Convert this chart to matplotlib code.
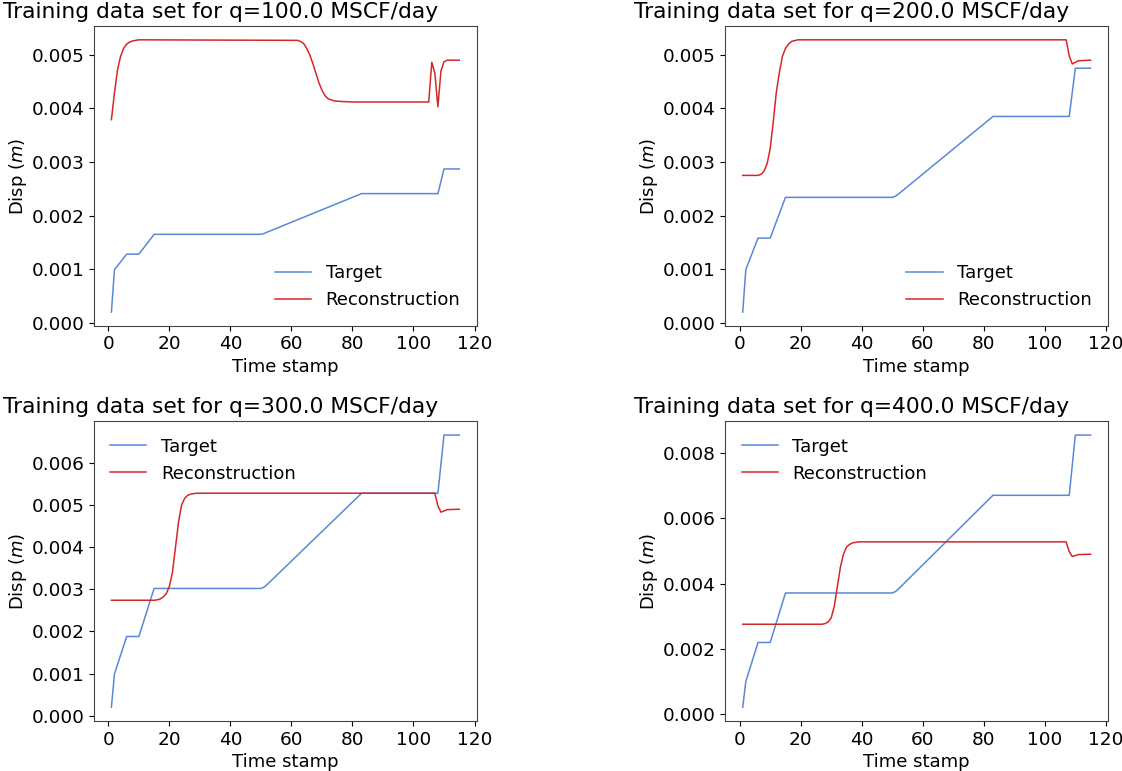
import matplotlib
matplotlib.use('Agg')
from matplotlib import pyplot as plt

# flow rates for the four panels
rates = [100.0, 200.0, 300.0, 400.0]

# target curves: break points (time stamp, displacement)
target_t = [1, 2, 6, 10, 15, 50, 51, 52, 83, 108, 110, 115]
target_q100 = [0.0002, 0.00099, 0.00128, 0.00128, 0.00165, 0.00165, 0.001665, 0.00169, 0.00241, 0.00241, 0.00287, 0.00287]
target_q200 = [0.0002, 0.00099, 0.00158, 0.00158, 0.00234, 0.00234, 0.00236, 0.0024, 0.00385, 0.00385, 0.00475, 0.00475]
target_q300 = [0.0002, 0.00099, 0.00188, 0.00188, 0.00302, 0.00302, 0.00305, 0.00311, 0.00528, 0.00528, 0.00666, 0.00666]
target_q400 = [0.0002, 0.00099, 0.00219, 0.00219, 0.00371, 0.00371, 0.00375, 0.00383, 0.00671, 0.00671, 0.00856, 0.00856]

# reconstruction curves
rec_t_q100 = [1, 2, 3, 4, 5, 6, 7, 8, 10, 62, 63, 64, 65, 66, 67, 68, 69, 70, 71, 72, 74, 76, 80,
              105, 106, 107, 108, 109, 110, 111, 115]
rec_q100 = [0.00379, 0.00429, 0.00472, 0.00497, 0.00512, 0.0052, 0.00524, 0.00526, 0.00528, 0.00527, 0.00525,
            0.00521, 0.00512, 0.005, 0.00484, 0.00466, 0.00448, 0.00434, 0.00424, 0.00418, 0.00414, 0.00413, 0.00412,
            0.00412, 0.00486, 0.00466, 0.00403, 0.0047, 0.00487, 0.0049, 0.0049]

rec_t_q200 = [1, 6, 7, 8, 9, 10, 11, 12, 13, 14, 15, 16, 17, 19, 107, 108, 109, 110, 111, 115]
rec_q200 = [0.00275, 0.00275, 0.00277, 0.00283, 0.00297, 0.00325, 0.00375, 0.0043, 0.00467, 0.00497, 0.00512,
            0.0052, 0.00525, 0.00528, 0.00528, 0.00498, 0.00483, 0.00486, 0.00489, 0.0049]

rec_t_q300 = [1, 15, 16, 17, 18, 19, 20, 21, 22, 23, 24, 25, 26, 27, 29, 107, 108, 109, 110, 111, 115]
rec_q300 = [0.00274, 0.00274, 0.00275, 0.00277, 0.00282, 0.0029, 0.00307, 0.0034, 0.004, 0.0046, 0.005, 0.00516,
            0.00523, 0.00526, 0.00528, 0.00528, 0.00498, 0.00483, 0.00486, 0.00489, 0.0049]

rec_t_q400 = [1, 27, 28, 29, 30, 31, 32, 33, 34, 35, 36, 37, 39, 107, 108, 109, 110, 111, 115]
rec_q400 = [0.00275, 0.00275, 0.00277, 0.00282, 0.00295, 0.0033, 0.0039, 0.0045, 0.0049, 0.00512, 0.0052,
            0.00525, 0.00528, 0.00528, 0.00498, 0.00483, 0.00486, 0.00489, 0.0049]

targets = [target_q100, target_q200, target_q300, target_q400]
rec_ts = [rec_t_q100, rec_t_q200, rec_t_q300, rec_t_q400]
recs = [rec_q100, rec_q200, rec_q300, rec_q400]
legend_loc = ['lower right', 'lower right', 'upper left', 'upper left']

blue = '#5a88d8'
red = '#d62728'

fig = plt.figure(figsize=(11.22, 7.71), dpi=100)
axes = fig.subplots(2, 2)
fig.subplots_adjust(left=0.0838, right=0.9875, top=0.966, bottom=0.065, wspace=0.65, hspace=0.32)

for i, ax in enumerate(axes.flat):
    ax.plot(target_t, targets[i], color=blue, lw=1.1, label='Target')
    ax.plot(rec_ts[i], recs[i], color=red, lw=1.1, label='Reconstruction')
    # title sits left of the axes centre in the original
    ax.set_title('Training data set for q=%.1f MSCF/day' % rates[i], fontsize=15.7, x=0.33)
    ax.set_xlabel('Time stamp', fontsize=13, labelpad=3.2)
    ax.set_ylabel('Disp ($m$)', fontsize=13, labelpad=2)
    ax.set_xticks([0, 20, 40, 60, 80, 100, 120])
    ax.tick_params(labelsize=13.3)
    for s in ax.spines.values():
        s.set_color('#444444')
    ax.legend(loc=legend_loc[i], frameon=False, fontsize=13)

fig.savefig('out.png', dpi=100)
